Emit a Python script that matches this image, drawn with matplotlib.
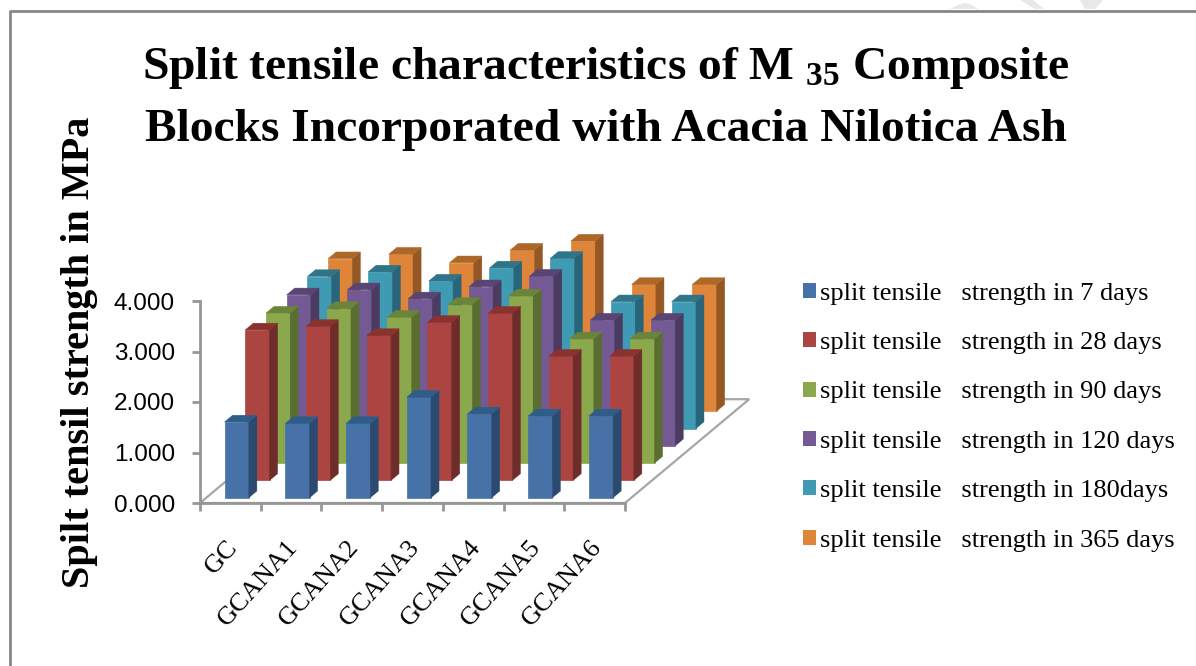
import matplotlib
matplotlib.use('Agg')
import matplotlib.pyplot as plt
from matplotlib.patches import Polygon, Patch

plt.rcParams['font.family'] = ['Liberation Serif', 'DejaVu Serif']
plt.rcParams['mathtext.default'] = 'regular'

W, H = 1196, 666

categories = ['GC', 'GCANA1', 'GCANA2', 'GCANA3', 'GCANA4', 'GCANA5', 'GCANA6']
days_7 = [1.50, 1.47, 1.47, 1.99, 1.66, 1.62, 1.62]
days_28 = [2.98, 3.05, 2.87, 3.13, 3.31, 2.46, 2.46]
days_90 = [2.97, 3.06, 2.89, 3.14, 3.31, 2.46, 2.46]
days_120 = [2.99, 3.09, 2.91, 3.15, 3.36, 2.49, 2.49]
days_180 = [3.01, 3.10, 2.92, 3.18, 3.37, 2.51, 2.51]
days_365 = [3.02, 3.11, 2.94, 3.19, 3.37, 2.51, 2.51]
series = [days_7, days_28, days_90, days_120, days_180, days_365]
labels = ['split tensile   strength in 7 days',
          'split tensile   strength in 28 days',
          'split tensile   strength in 90 days',
          'split tensile   strength in 120 days',
          'split tensile   strength in 180days',
          'split tensile   strength in 365 days']
yticks = [0, 1, 2, 3, 4]

front = ['#4672A8', '#AC4442', '#8BA94C', '#745A94', '#3F9BB3', '#DF853A']
top = ['#2F5D8A', '#8A3230', '#6A8439', '#5A4474', '#2F7488', '#AD6828']
side = ['#2C4A6F', '#6E2C2A', '#5A6E31', '#4B3B61', '#29657A', '#955824']
grey = '#969696'

# one step back in depth, in data units of the axes
depth_x = 20.7 / 60.71
depth_y = 17.3 / 50.5
bar_w = 0.40
bar_d = 0.39

fig = plt.figure(figsize=(W / 100, H / 100), dpi=100)
ax = fig.add_axes([200 / W, 1 - 503 / H, 425 / W, 202 / H])
ax.set_xlim(0, 7)
ax.set_ylim(0, 4)
ax.patch.set_alpha(0)

# floor
n = len(series)
ax.add_patch(Polygon([(0, 0), (7, 0), (7 + n * depth_x, n * depth_y), (n * depth_x, n * depth_y)],
                     closed=True, facecolor='white', edgecolor='#A6A6A6', lw=1.6, clip_on=False, zorder=1))

# bars, back row first
for k in range(n - 1, -1, -1):
    for i, v in enumerate(series[k]):
        off = k + (1 - bar_d) / 2
        x0 = i + (1 - bar_w) / 2 + off * depth_x
        y0 = off * depth_y
        x1 = x0 + bar_w
        dx = bar_d * depth_x
        dy = bar_d * depth_y
        z = 2 + (n - k) * 3
        ax.add_patch(Polygon([(x0, y0), (x1, y0), (x1, y0 + v), (x0, y0 + v)], closed=True,
                             facecolor=front[k], edgecolor=front[k], lw=0.5, clip_on=False, zorder=z))
        ax.add_patch(Polygon([(x1, y0), (x1 + dx, y0 + dy), (x1 + dx, y0 + v + dy), (x1, y0 + v)], closed=True,
                             facecolor=side[k], edgecolor=side[k], lw=0.3, clip_on=False, zorder=z))
        ax.add_patch(Polygon([(x0, y0 + v), (x1, y0 + v), (x1 + dx, y0 + v + dy), (x0 + dx, y0 + v + dy)], closed=True,
                             facecolor=top[k], edgecolor=top[k], lw=0.3, clip_on=False, zorder=z))

for s in ['top', 'right']:
    ax.spines[s].set_visible(False)
for s in ['left', 'bottom']:
    ax.spines[s].set_color(grey)
    ax.spines[s].set_linewidth(2)

ax.set_yticks(yticks)
ax.set_yticklabels([f'{t:.3f}' for t in yticks], family=['Liberation Sans'], fontsize=17.5)
ax.set_xticks(range(8))
ax.set_xticklabels([])
ax.set_xticks([i + 0.42 for i in range(7)], minor=True)
ax.set_xticklabels(categories, minor=True, rotation=48, ha='right', va='top',
                   rotation_mode='anchor', fontsize=19)
ax.tick_params(axis='both', which='major', color=grey, width=2, length=6)
ax.tick_params(axis='x', which='minor', length=0, pad=24)
ax.tick_params(axis='y', pad=12)

fig.text(606 / W, 1 - 68 / H, 'Split tensile characteristics of M $_{35}$ Composite',
         ha='center', va='center', fontsize=34.2, fontweight='bold')
fig.text(606 / W, 1 - 130 / H, 'Blocks Incorporated with Acacia Nilotica Ash',
         ha='center', va='center', fontsize=34.2, fontweight='bold')
fig.text(80 / W, 1 - 352 / H, 'Spilt tensil strength in MPa', rotation=90,
         ha='center', va='center', fontsize=29, fontweight='bold')

handles = [Patch(facecolor=c, edgecolor='none') for c in front]
fig.legend(handles, labels, loc='upper left', bbox_to_anchor=(792.5 / W, 1 - 272 / H),
           frameon=False, fontsize=19, handlelength=0.5, handleheight=0.5,
           handletextpad=0.15, labelspacing=1.04, borderpad=0.4, borderaxespad=0)

# chart frame
fig.add_artist(plt.Line2D([10 / W, 10 / W, 1], [0, 1 - 10.5 / H, 1 - 10.5 / H], color='#868686', lw=2))

# watermark pieces above the frame
wm = '#E8E8E8'
for piece in ([(950, 9), (958, 5), (965, 3), (972, 5), (978, 9)],
              [(1020, 0), (1033, 0), (1044, 9), (1035, 9)],
              [(1080, 0), (1103, 0), (1095, 9), (1085, 9)]):
    fig.add_artist(Polygon([(x / W, 1 - y / H) for x, y in piece], closed=True, facecolor=wm,
                           edgecolor='none', transform=fig.transFigure))

fig.savefig('out.png', dpi=100)
